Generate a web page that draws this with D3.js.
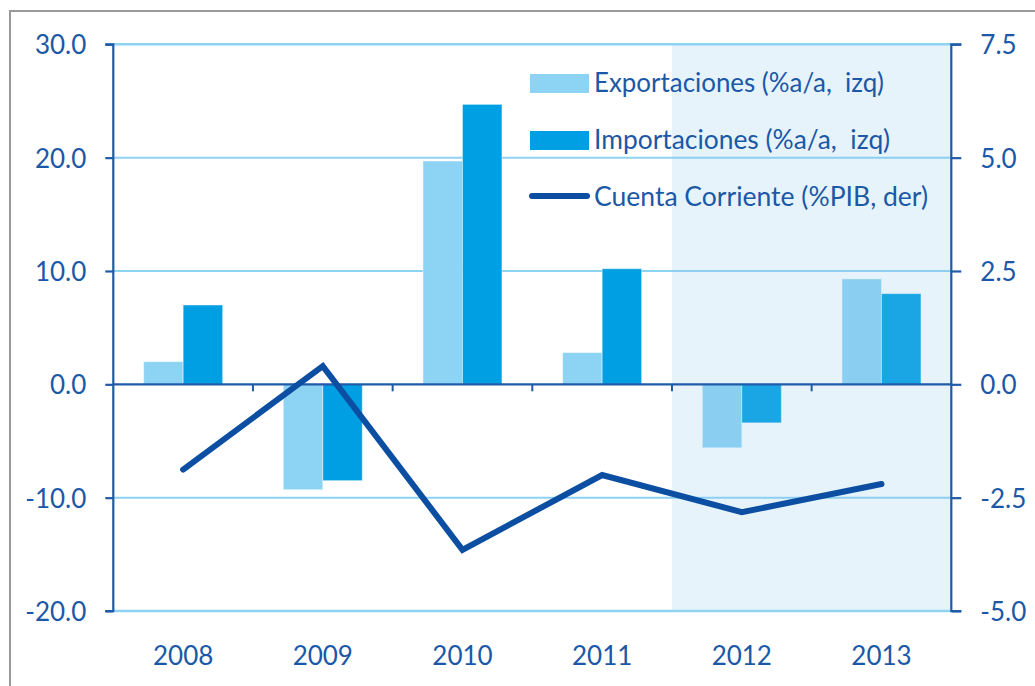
<!DOCTYPE html>
<html><head><meta charset="utf-8">
<script src="https://cdn.jsdelivr.net/npm/d3@7"></script>
<style>body{margin:0;background:#fff;} svg{display:block;}</style>
</head><body>
<script>
const years = ["2008","2009","2010","2011","2012","2013"];
const exportaciones = [2.0, -9.3, 19.7, 2.8, -5.6, 9.3];
const importaciones = [7.0, -8.5, 24.7, 10.2, -3.4, 8.0];
const cuentaCorriente = [-1.88, 0.4, -3.65, -2.0, -2.82, -2.2];
const leftTicks = [30, 20, 10, 0, -10, -20];
const rightTicks = [7.5, 5.0, 2.5, 0.0, -2.5, -5.0];
const legendLabels = ["Exportaciones (%a/a,  izq)", "Importaciones (%a/a,  izq)", "Cuenta Corriente (%PIB, der)"];

(function () {
const W = 1035, H = 686;
const mLeft = 113.3, mRight = 951.3, mTop = 44.3, mBottom = 611;
const shadeStart = 672;
const font = "Lato, 'Open Sans', sans-serif";
const textColor = "#1b58a7", axisColor = "#1f5ba8";
const expColor = "#8dd3f3", impColor = "#009fe3", lineColor = "#0b4ea2", gridColor = "#8fd3f3";
const fmt = d => d.toFixed(1);

const svg = d3.select("body").append("svg").attr("width", W).attr("height", H);

// outer frame
svg.append("rect").attr("x", 10).attr("y", 11).attr("width", W + 20).attr("height", H + 20)
  .attr("fill", "#fff").attr("stroke", "#9a9a9a").attr("stroke-width", 2);

const x = d3.scaleBand().domain(years).range([mLeft, mRight]);
const yL = d3.scaleLinear().domain([-20, 30]).range([mBottom, mTop]);
const yR = d3.scaleLinear().domain([-5, 7.5]).range([mBottom, mTop]);

// gridlines
svg.append("g").selectAll("line").data(leftTicks.filter(d => d !== 0 && d !== 30 && d !== -20)).join("line")
  .attr("x1", mLeft).attr("x2", mRight).attr("y1", d => yL(d)).attr("y2", d => yL(d))
  .attr("stroke", gridColor).attr("stroke-width", 2);

// bars
const bw = 39.5;
const gBars = svg.append("g");
gBars.selectAll(".exp").data(years).join("rect").attr("class", "exp")
  .attr("x", d => x(d) + x.bandwidth() / 2 - bw)
  .attr("width", bw)
  .attr("y", (d, i) => yL(Math.max(0, exportaciones[i])))
  .attr("height", (d, i) => Math.abs(yL(exportaciones[i]) - yL(0)))
  .attr("fill", expColor).attr("stroke", "rgba(255,255,255,0.45)").attr("stroke-width", 1);
gBars.selectAll(".imp").data(years).join("rect").attr("class", "imp")
  .attr("x", d => x(d) + x.bandwidth() / 2)
  .attr("width", bw)
  .attr("y", (d, i) => yL(Math.max(0, importaciones[i])))
  .attr("height", (d, i) => Math.abs(yL(importaciones[i]) - yL(0)))
  .attr("fill", impColor).attr("stroke", "rgba(255,255,255,0.45)").attr("stroke-width", 1);

// translucent shaded region over the last two years
svg.append("rect").attr("x", shadeStart).attr("y", mTop).attr("width", mRight - shadeStart).attr("height", mBottom - mTop)
  .attr("fill", "rgb(130,195,235)").attr("opacity", 0.2);

// top and bottom gridlines
svg.append("g").selectAll("line").data([30, -20]).join("line")
  .attr("x1", mLeft).attr("x2", mRight).attr("y1", d => yL(d)).attr("y2", d => yL(d))
  .attr("stroke", gridColor).attr("stroke-width", 2.5);

// zero axis with ticks at band boundaries
svg.append("line").attr("x1", mLeft).attr("x2", mRight).attr("y1", yL(0)).attr("y2", yL(0))
  .attr("stroke", axisColor).attr("stroke-width", 2.2);
svg.append("g").selectAll("line").data(years.slice(1)).join("line")
  .attr("x1", d => x(d)).attr("x2", d => x(d)).attr("y1", yL(0)).attr("y2", yL(0) + 7)
  .attr("stroke", axisColor).attr("stroke-width", 2);

// left axis
const axL = d3.axisLeft(yL).tickValues(leftTicks).tickSize(8).tickFormat(fmt);
const gL = svg.append("g").attr("transform", `translate(${mLeft},0)`).call(axL);
gL.select(".domain").attr("stroke", axisColor).attr("stroke-width", 2.2).attr("d", `M-8,${mTop}H0V${mBottom}H-8`);
gL.selectAll(".tick line").attr("stroke", axisColor).attr("stroke-width", 2.2);
gL.selectAll(".tick text").attr("x", -27).attr("fill", textColor)
  .style("font-family", font).style("font-size", "26px").attr("dy", "0.36em");

// right axis
const axR = d3.axisRight(yR).tickValues(rightTicks).tickSize(10).tickFormat(fmt);
const gR = svg.append("g").attr("transform", `translate(${mRight},0)`).call(axR);
gR.select(".domain").attr("stroke", axisColor).attr("stroke-width", 2.2).attr("d", `M10,${mTop}H0V${mBottom}H10`);
gR.selectAll(".tick line").attr("stroke", axisColor).attr("stroke-width", 2.2);
gR.selectAll(".tick text").attr("x", 29).attr("fill", textColor)
  .style("font-family", font).style("font-size", "26px").attr("dy", "0.36em");

// x labels
svg.append("g").selectAll("text").data(years).join("text")
  .attr("x", d => x(d) + x.bandwidth() / 2).attr("y", 665)
  .attr("text-anchor", "middle").attr("fill", textColor)
  .style("font-family", font).style("font-size", "26px").text(d => d);

// line
const line = d3.line().x((d, i) => x(years[i]) + x.bandwidth() / 2).y(d => yR(d));
svg.append("path").datum(cuentaCorriente).attr("d", line)
  .attr("fill", "none").attr("stroke", lineColor).attr("stroke-width", 6)
  .attr("stroke-linecap", "round").attr("stroke-linejoin", "miter");

// legend
const lg = svg.append("g");
lg.append("rect").attr("x", 530).attr("y", 74).attr("width", 59).attr("height", 19).attr("fill", expColor);
lg.append("rect").attr("x", 530).attr("y", 131).attr("width", 59).attr("height", 19).attr("fill", impColor);
lg.append("line").attr("x1", 532).attr("x2", 587).attr("y1", 196).attr("y2", 196)
  .attr("stroke", lineColor).attr("stroke-width", 6).attr("stroke-linecap", "round");
const legendWidths = [290, 296, 334];
lg.selectAll("text").data(legendLabels).join("text")
  .attr("x", 594).attr("y", (d, i) => [92, 149, 206][i])
  .attr("fill", textColor).style("font-family", font).style("font-size", "26px")
  .attr("textLength", (d, i) => legendWidths[i]).attr("lengthAdjust", "spacingAndGlyphs")
  .style("white-space", "pre").text(d => d);
})();
</script>
</body></html>
